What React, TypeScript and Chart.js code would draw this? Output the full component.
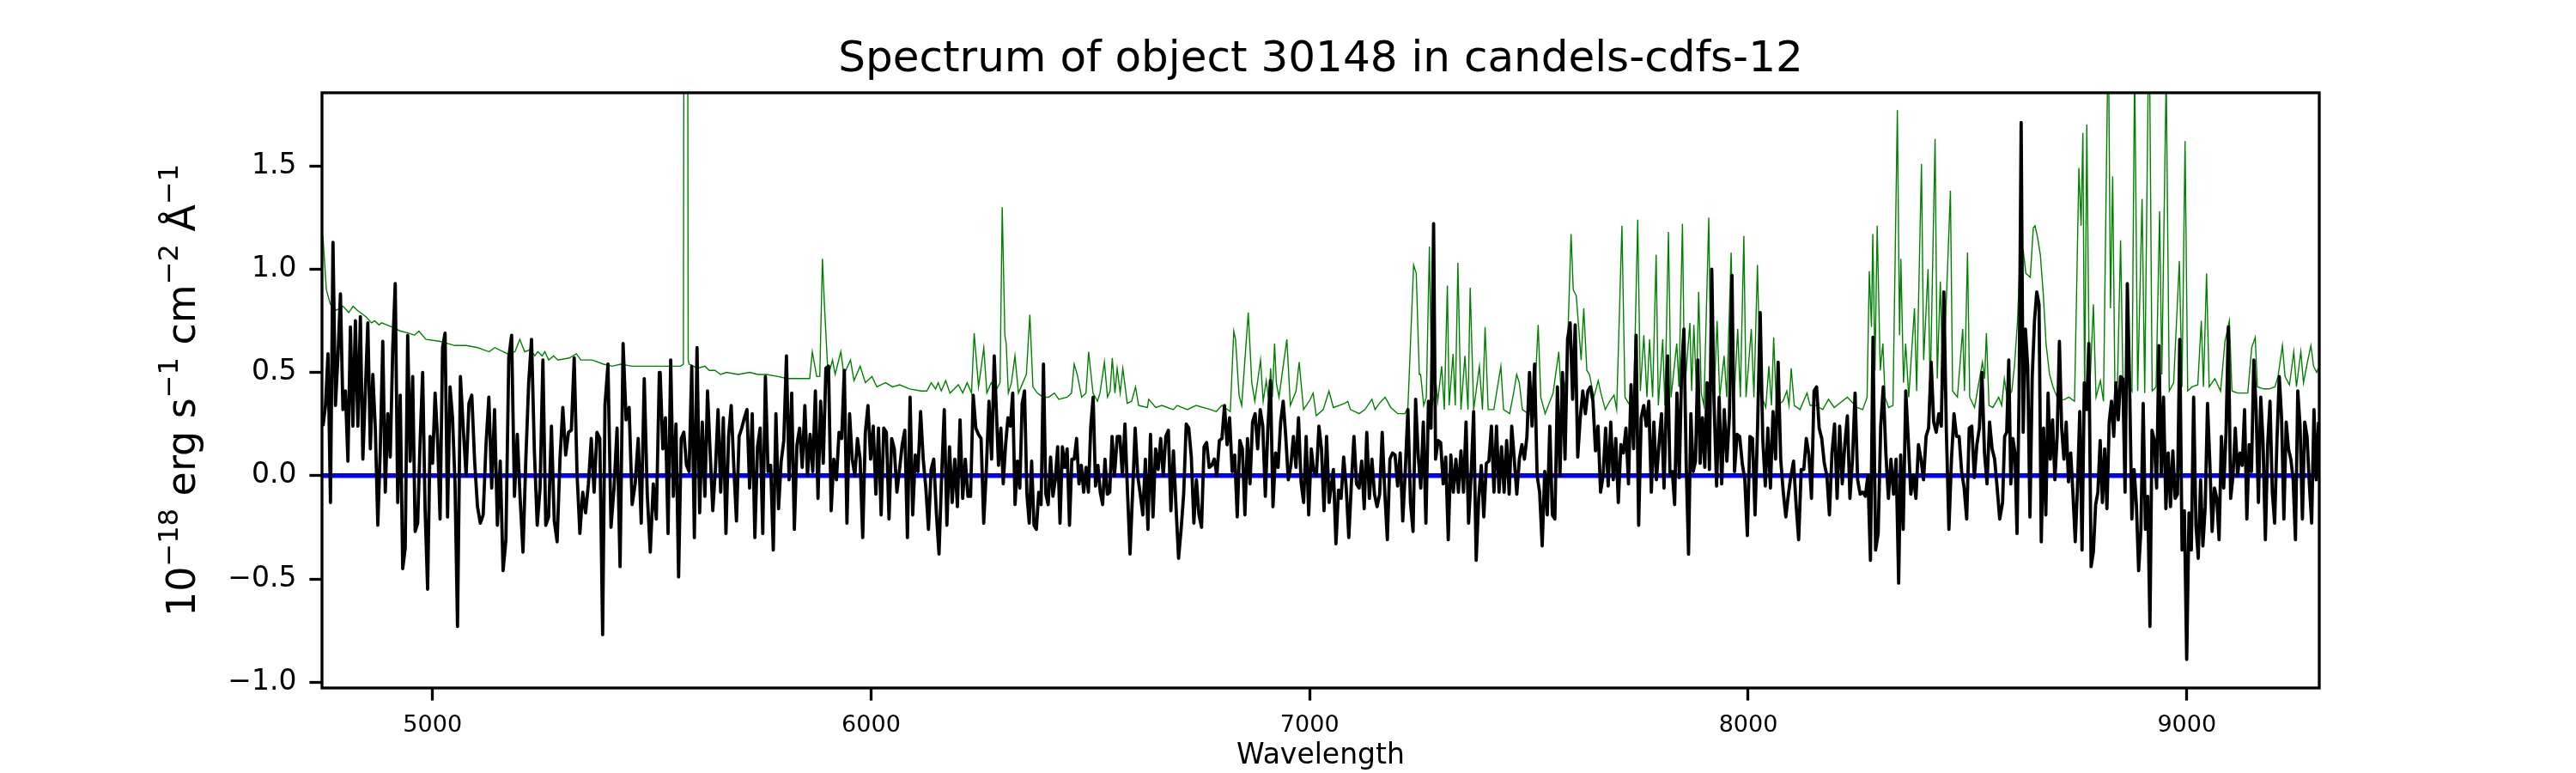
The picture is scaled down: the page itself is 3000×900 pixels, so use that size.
import React, { useEffect, useRef } from "react";
import { Chart, registerables } from "chart.js";
import type { Plugin } from "chart.js";

Chart.register(...registerables);

const TITLE = "Spectrum of object 30148 in candels-cdfs-12";
const X_LABEL = "Wavelength";
const FONT = "DejaVu Sans";

const xTicks = [5000, 6000, 7000, 8000, 9000];
const yTicks = [-1.0, -0.5, 0.0, 0.5, 1.0, 1.5];

// flux readings (black), stored in pieces; each piece is spread evenly from start to end wavelength
const fluxStart = [4750.3, 5063.6, 5393.2, 5519.1, 6290.5, 6561.4, 7054.1, 7287.1, 7816.3, 7922.0, 8347.6, 8579.9, 8626.9, 8920.6];
const fluxEnd = [5057.0, 5387.9, 5517.2, 6280.8, 6554.9, 7044.4, 7282.6, 7808.0, 7916.8, 8343.0, 8573.4, 8622.3, 8916.0, 9300.5];

const fluxA1 = [0.24, 0.34, 0.59, -0.13, 1.13, 0.34, 0.58, 0.88, 0.32, 0.41, 0.07, 0.72, 0.24, 0.75, 0.24, 0.77, 0.08, 0.41, 0.74, 0.13,
  0.49, 0.23, -0.24, 0.13, 0.65, -0.08, 0.30, 0.09, 0.62, 0.93, -0.13, 0.39, -0.45, -0.35, 0.68, 0.07, 0.48, -0.27, -0.23, 0.17,
  0.50, -0.17, -0.55, 0.19, 0.06, 0.40, 0.18, -0.21, 0.62, 0.69, -0.20, 0.43, 0.28, -0.04, -0.73];
const fluxA2 = [0.48, 0.23, 0.00, 0.35, 0.39, 0.07, -0.15, -0.23, -0.19, 0.15, 0.38, -0.06, 0.32, -0.24, 0.07, -0.46, -0.31, 0.57, 0.68, -0.10,
  0.20, -0.11, -0.37, 0.08, 0.45, 0.66, 0.12, -0.24, -0.06, 0.56, -0.24, -0.20, 0.24, -0.22, -0.32, 0.08, 0.33, 0.10, 0.21, 0.22,
  0.57, 0.01, -0.28, -0.08, -0.18, -0.04, 0.18, -0.08, 0.21, 0.18, -0.77];
const fluxA3 = [0.34, 0.54, -0.25, -0.06, 0.23, -0.44, 0.64, 0.27, 0.33, -0.14, -0.04, 0.18, -0.23, 0.47, -0.09, -0.37, -0.04, -0.21, 0.50];
const fluxB = [0.50, 0.13, 0.28, -0.28, 0.56, -0.10, 0.25, -0.49, 0.18, 0.21, 0.05, 0.02, 0.53, -0.30, 0.62, -0.18, 0.26, -0.10, 0.41, 0.11,
  -0.17, 0.03, 0.32, -0.08, 0.28, -0.28, 0.19, 0.34, 0.04, -0.22, 0.19, 0.23, 0.28, 0.32, -0.06, 0.30, -0.30, 0.14, 0.23, -0.28,
  0.48, 0.02, 0.05, -0.36, 0.30, -0.16, 0.07, 0.17, 0.58, -0.02, 0.40, -0.26, 0.15, 0.23, 0.04, 0.34, 0.00, 0.20, 0.02, 0.41,
  -0.11, 0.36, 0.06, 0.52, 0.53, -0.17, 0.08, -0.02, 0.21, 0.18, 0.51, -0.23, 0.30, 0.08, 0.00, 0.18, 0.08, -0.30, 0.21, 0.34,
  0.08, 0.24, -0.09, 0.23, -0.19, 0.23, 0.21, -0.21, 0.18, 0.13, -0.08, 0.03, 0.15, 0.22, -0.30, 0.38, -0.19, 0.10, 0.02, 0.31,
  0.08, -0.06, -0.26, 0.03, 0.08, -0.18, -0.38, 0.00, 0.32, -0.24, 0.14, -0.13, 0.08, -0.15, 0.27, -0.11, 0.08, -0.10, -0.10, 0.39,
  0.23, 0.20, 0.18, -0.23, 0.03, 0.36, 0.08, 0.58];
const fluxC1 = [0.05, 0.23, -0.04, 0.15, 0.28, 0.24, 0.40, -0.14, 0.07, -0.06, 0.35, 0.41, -0.09, -0.23, 0.07, -0.24, -0.26, -0.08, -0.14, 0.54,
  -0.09, -0.14, 0.09, -0.10, -0.02, 0.14, -0.23, 0.14, 0.04, 0.13, -0.24, 0.08, 0.08, 0.18, -0.04, 0.05, -0.08, 0.04, -0.08, 0.24,
  0.38, -0.05, 0.05, -0.08, -0.14, 0.08, -0.09, -0.08, 0.19, 0.00];
const fluxC2 = [0.19, 0.19, 0.00, 0.25, -0.08, -0.38, -0.08, 0.23, 0.00, -0.09, -0.19, 0.08, -0.26, 0.20, -0.20, 0.13, 0.03, 0.18, 0.00, 0.19,
  0.22, -0.17, 0.12, -0.15, -0.40, -0.26, -0.09, 0.25, 0.23, 0.09, -0.23, -0.02, -0.19, -0.25, 0.14, 0.16, 0.04, 0.05, 0.08, 0.00,
  0.17, 0.18, 0.34, 0.15, 0.28, 0.02, 0.10, -0.20, 0.17, 0.13, -0.19, 0.18, -0.04, 0.26, 0.30, 0.13, 0.32, 0.24, -0.10, 0.23,
  0.46, -0.15, 0.11, 0.04, 0.26, 0.36, 0.19, -0.02, 0.05, 0.19, 0.04, 0.28, -0.03, -0.13, 0.19, -0.19, 0.13, 0.02, 0.00, 0.24,
  0.13, -0.17, 0.19, -0.13];
const fluxD1 = [0.03, -0.33, -0.07, -0.11, 0.09, -0.06, -0.30, -0.04, 0.19, -0.04, -0.06, 0.07, -0.16, 0.21, -0.11, 0.08, -0.09, -0.15, -0.09, 0.21,
  -0.08, -0.31, 0.08, 0.11, 0.10, -0.05, 0.11, -0.22, 0.03, 0.32, -0.13, -0.27, 0.37, 0.10, -0.06, 0.26, -0.23, 0.36, 0.23, 1.22];
const fluxD2 = [0.08, 0.17, 0.16, -0.04, 0.09, -0.31, 0.10, -0.08, 0.08, -0.08, 0.12, -0.08, 0.26, -0.23, 0.00, 0.31, -0.41, -0.11, 0.05, -0.20,
  0.06, 0.07, 0.24, -0.08, 0.24, -0.08, 0.14, -0.08, 0.17, -0.09, 0.24, 0.08, -0.09, 0.08, 0.15, 0.08, 0.19, 0.50, 0.24, 0.54,
  0.00, -0.08, -0.34, 0.02, -0.19, 0.24, -0.19, -0.21, 0.43, 0.00, 0.50, 0.08, 0.66, 0.74, 0.37, 0.73, 0.09, 0.28, 0.41, 0.30,
  0.41, 0.43, 0.36, 0.12, 0.24, -0.08, 0.00, 0.23, -0.05, 0.26, -0.02, 0.18, -0.13, 0.15, 0.11, 0.23, -0.04, 0.44, 0.13, 0.68,
  -0.24, 0.28, 0.34, 0.24, 0.36, -0.08, 0.26, -0.02, 0.15, 0.30, -0.06];
const fluxE1 = [0.58, 0.00, 0.02, -0.14, 0.40, -0.01, 0.51, 0.71, 0.05, -0.38, 0.30, 0.02, 0.07, 0.56, 0.06, 0.28, 0.04, 0.45, 0.03, 1.00];
const fluxE2 = [0.36, -0.05, 0.38, -0.04, 0.32, 0.07, 0.29, 0.97, 0.02, 0.20, 0.19, 0.06, -0.02, -0.29, 0.19, 0.18, -0.19, 0.24, 0.79, 0.18,
  -0.05, 0.23, -0.06, 0.31, 0.08, 0.55, 0.08, -0.08, -0.20, -0.09, 0.00, 0.07, -0.14, -0.31, 0.03, 0.03, 0.18, 0.10, -0.11, 0.41,
  0.43, 0.23, 0.18, 0.06, 0.00, -0.19, 0.11, 0.25, -0.11, 0.24, -0.04, 0.15, 0.29, -0.11, 0.08, 0.40, -0.02, -0.09, -0.08, -0.10,
  0.00, -0.41, 0.67, -0.36, -0.28, 0.24, 0.43, 0.11, -0.11, 0.08, -0.09, 0.08, -0.52];
const fluxE3 = [0.10, -0.26, 0.41, 0.17, -0.09, 0.00, -0.11, 0.15, 0.08, -0.02, 0.19, 0.23, 0.55, 0.26, 0.21, 0.30, 0.24, 0.89, 0.21, -0.26,
  0.08, 0.30, 0.19, 0.19, 0.02, -0.06, -0.21, 0.23, 0.24, -0.01, 0.15, 0.23, 0.50, 0.11, -0.04, 0.26, 0.13, 0.08, -0.06, -0.21];
const fluxF1 = [-0.13, 0.19, 0.21, 0.56, -0.04, 0.18, 0.11, -0.28, 0.39, 1.71];
const fluxF2 = [0.21, 0.71, 0.53, -0.20, 0.48, 0.75, 0.89, 0.83, -0.32, 0.23, -0.19, 0.40, 0.08, 0.27, -0.02, 0.19, 0.65, 0.23, 0.08, 0.26,
  -0.03, 0.11, -0.09, -0.32, -0.05, 0.31, -0.36, 0.45, 0.32, 0.64, -0.44, -0.37, -0.14, -0.08, 0.17, -0.13, 0.13, -0.16, 0.26, 0.36,
  0.19, 0.45, 0.27, 0.48, 0.47, -0.08, 0.93, 0.45, -0.21, 0.03, -0.14, -0.46, -0.26, 0.35, -0.26, -0.10, -0.73];
const fluxF3 = [0.22, 0.17, -0.06, 0.63, 0.00, 0.38, -0.16, 0.11, -0.15, 0.12, -0.11, -0.09, 0.66, -0.36, -0.17, -0.89, -0.18, -0.36, 0.38, -0.24,
  -0.40, -0.02, -0.34, -0.15, 0.35, 0.06, -0.27, -0.06, -0.11, -0.31, 0.19, -0.06, 0.21, 0.72, -0.11, 0.00, 0.23, 0.00, 0.11, 0.05,
  0.32, -0.21, 0.15, 0.02, 0.56, 0.32, -0.13, 0.38, 0.16, -0.31, 0.15, 0.36, -0.08, -0.23, 0.17, 0.48, 0.28, -0.21, 0.26, 0.13,
  0.08, -0.02, -0.31, 0.41, 0.24, -0.21, 0.26, 0.19, -0.04, -0.23, 0.32, -0.02, 0.26];

const fluxPieces = [fluxA1, fluxA2, fluxA3, fluxB, fluxC1, fluxC2, fluxD1, fluxD2, fluxE1, fluxE2, fluxE3, fluxF1, fluxF2, fluxF3];

// noise spectrum (green)
const errWave = [
  4750, 4758, 4767, 4780, 4796, 4809, 4819, 4829, 4848, 4861, 4868, 4878, 4884, 4907, 4927, 4946, 4959, 4969, 4985, 5018,
  5034, 5051, 5077, 5103, 5129, 5142, 5171, 5188, 5199, 5210, 5224, 5233, 5240, 5250, 5256, 5265, 5276, 5286, 5312, 5328,
  5338, 5364, 5390, 5410, 5429, 5455, 5501, 5540, 5566, 5572, 5574, 5581, 5583, 5585, 5605, 5621, 5631, 5644, 5657, 5670,
  5697, 5723, 5742, 5762, 5788, 5808, 5860, 5866, 5876, 5883, 5889, 5894, 5902, 5912, 5918, 5931, 5938, 5953, 5961, 5975,
  5987, 6002, 6013, 6033, 6049, 6065, 6088, 6114, 6127, 6137, 6147, 6153, 6160, 6170, 6180, 6199, 6209, 6219, 6229, 6235,
  6245, 6257, 6264, 6274, 6284, 6294, 6299, 6305, 6308, 6313, 6320, 6328, 6336, 6346, 6354, 6362, 6369, 6379, 6392, 6405,
  6418, 6428, 6447, 6457, 6463, 6470, 6480, 6490, 6496, 6506, 6516, 6522, 6532, 6539, 6545, 6550, 6556, 6561, 6568, 6574,
  6584, 6594, 6603, 6610, 6630, 6633, 6649, 6663, 6689, 6698, 6721, 6741, 6774, 6787, 6800, 6819, 6827, 6831, 6839, 6845,
  6860, 6868, 6875, 6888, 6894, 6901, 6907, 6911, 6915, 6920, 6924, 6930, 6948, 6956, 6969, 6976, 6986, 6999, 7008, 7015,
  7031, 7044, 7054, 7067, 7080, 7087, 7093, 7113, 7126, 7142, 7149, 7159, 7172, 7185, 7201, 7217, 7224, 7237, 7243, 7250,
  7253, 7260, 7266, 7273, 7279, 7289, 7292, 7301, 7307, 7314, 7318, 7327, 7332, 7338, 7345, 7354, 7361, 7366, 7374, 7387,
  7394, 7400, 7407, 7420, 7436, 7442, 7456, 7465, 7472, 7478, 7485, 7498, 7511, 7521, 7527, 7537, 7555, 7568, 7575, 7586,
  7596, 7601, 7608, 7619, 7625, 7632, 7638, 7648, 7658, 7664, 7674, 7684, 7694, 7700, 7712, 7719, 7730, 7739, 7748, 7754,
  7762, 7769, 7775, 7782, 7790, 7795, 7805, 7810, 7818, 7824, 7837, 7842, 7850, 7855, 7867, 7871, 7876, 7882, 7887, 7893,
  7899, 7910, 7915, 7922, 7929, 7935, 7945, 7951, 7961, 7968, 7976, 7982, 7990, 7995, 8007, 8013, 8021, 8028, 8040, 8047,
  8053, 8058, 8064, 8079, 8088, 8093, 8098, 8105, 8118, 8134, 8141, 8154, 8170, 8183, 8196, 8226, 8248, 8261, 8271, 8276,
  8281, 8284, 8289, 8294, 8301, 8307, 8312, 8320, 8330, 8340, 8345, 8348, 8354, 8359, 8366, 8379, 8384, 8395, 8400, 8410,
  8415, 8426, 8431, 8438, 8444, 8461, 8466, 8477, 8489, 8493, 8500, 8505, 8516, 8534, 8539, 8543, 8549, 8558, 8571, 8578,
  8584, 8591, 8601, 8607, 8614, 8620, 8627, 8633, 8643, 8650, 8654, 8660, 8666, 8673, 8679, 8687, 8695, 8708, 8722, 8731,
  8744, 8754, 8759, 8763, 8767, 8772, 8778, 8787, 8793, 8803, 8810, 8821, 8826, 8831, 8836, 8842, 8849, 8855, 8865, 8875,
  8881, 8888, 8898, 8904, 8914, 8921, 8930, 8938, 8943, 8953, 8960, 8970, 8983, 8989, 8996, 9002, 9012, 9025, 9033, 9038,
  9045, 9051, 9064, 9077, 9087, 9097, 9103, 9116, 9129, 9139, 9148, 9156, 9161, 9175, 9188, 9201, 9208, 9218, 9224, 9234,
  9244, 9250, 9260, 9266, 9276, 9283, 9289, 9296, 9300,
];
const errFlux = [
  1.16, 0.90, 0.83, 0.80, 0.82, 0.79, 0.82, 0.80, 0.77, 0.74, 0.75, 0.73, 0.74, 0.72, 0.70, 0.69, 0.68, 0.70, 0.66, 0.65,
  0.64, 0.63, 0.63, 0.62, 0.60, 0.62, 0.59, 0.60, 0.66, 0.60, 0.61, 0.58, 0.60, 0.58, 0.60, 0.56, 0.58, 0.56, 0.57, 0.59,
  0.56, 0.56, 0.54, 0.53, 0.54, 0.53, 0.53, 0.53, 0.53, 0.54, 3.5, 3.5, 0.56, 0.54, 0.52, 0.53, 0.51, 0.51, 0.49, 0.50,
  0.49, 0.50, 0.49, 0.49, 0.48, 0.47, 0.47, 0.60, 0.48, 0.48, 1.05, 0.81, 0.48, 0.56, 0.49, 0.60, 0.49, 0.56, 0.46, 0.53,
  0.45, 0.48, 0.43, 0.45, 0.43, 0.44, 0.42, 0.41, 0.41, 0.45, 0.42, 0.45, 0.41, 0.46, 0.40, 0.44, 0.40, 0.45, 0.40, 0.69,
  0.43, 0.62, 0.40, 0.45, 0.41, 0.45, 1.30, 0.68, 0.64, 0.40, 0.45, 0.58, 0.40, 0.45, 0.49, 0.78, 0.43, 0.40, 0.38, 0.38,
  0.40, 0.37, 0.38, 0.40, 0.54, 0.49, 0.38, 0.40, 0.60, 0.40, 0.36, 0.40, 0.55, 0.38, 0.41, 0.57, 0.40, 0.52, 0.40, 0.52,
  0.35, 0.36, 0.43, 0.34, 0.33, 0.37, 0.33, 0.34, 0.32, 0.34, 0.32, 0.34, 0.32, 0.31, 0.34, 0.31, 0.70, 0.66, 0.39, 0.34,
  0.79, 0.45, 0.36, 0.56, 0.36, 0.46, 0.36, 0.52, 0.38, 0.64, 0.45, 0.38, 0.66, 0.34, 0.41, 0.55, 0.32, 0.36, 0.40, 0.29,
  0.32, 0.41, 0.33, 0.34, 0.35, 0.36, 0.32, 0.30, 0.32, 0.37, 0.32, 0.35, 0.38, 0.33, 0.30, 0.30, 0.33, 1.02, 0.98, 0.49,
  0.49, 0.34, 0.38, 1.11, 0.34, 0.43, 0.36, 0.53, 0.32, 0.92, 0.34, 0.59, 0.34, 1.03, 0.32, 0.58, 0.32, 0.91, 0.32, 0.53,
  0.32, 0.72, 0.32, 0.32, 0.53, 0.32, 0.30, 0.40, 0.49, 0.45, 0.32, 0.30, 0.29, 0.73, 0.38, 0.30, 0.40, 0.60, 0.34, 0.49,
  1.17, 0.90, 0.87, 0.56, 0.81, 0.51, 0.49, 0.38, 0.46, 0.40, 0.32, 0.36, 0.39, 0.32, 1.21, 0.38, 0.34, 0.38, 1.24, 0.41,
  0.68, 0.38, 0.66, 0.38, 1.07, 0.34, 0.66, 0.34, 1.18, 0.38, 0.64, 0.43, 1.22, 0.41, 0.74, 0.41, 0.73, 0.40, 0.89, 0.40,
  0.34, 1.25, 0.43, 0.38, 0.75, 0.38, 0.58, 0.38, 1.08, 0.38, 0.71, 0.38, 1.16, 0.38, 0.71, 0.38, 1.02, 0.40, 0.33, 0.53,
  0.34, 0.67, 0.34, 0.36, 0.41, 0.34, 0.52, 0.34, 0.32, 0.40, 0.34, 0.34, 0.32, 0.37, 0.33, 0.38, 0.33, 0.32, 0.38, 0.99,
  0.72, 1.17, 0.51, 1.21, 0.51, 0.64, 0.38, 0.33, 0.34, 1.77, 0.68, 1.05, 0.45, 0.64, 0.38, 0.81, 0.41, 1.51, 0.56, 1.00,
  0.41, 1.63, 0.47, 0.94, 0.41, 1.38, 0.41, 0.38, 0.71, 0.41, 1.08, 0.38, 0.33, 0.55, 0.47, 0.69, 0.34, 0.33, 0.38, 0.34,
  0.47, 0.37, 0.41, 0.53, 0.75, 1.07, 1.09, 0.98, 0.96, 1.20, 1.21, 1.15, 1.07, 0.87, 0.64, 0.49, 0.43, 0.36, 0.37, 0.38,
  0.36, 1.49, 1.21, 1.66, 0.38, 1.70, 0.38, 0.83, 0.38, 0.46, 0.36, 2.2, 0.81, 1.45, 0.43, 0.45, 1.14, 0.38, 0.45, 0.41,
  2.0, 0.41, 1.34, 0.40, 2.3, 0.41, 0.43, 1.28, 0.49, 1.95, 0.41, 0.45, 1.04, 0.43, 1.62, 0.41, 0.43, 0.44, 0.75, 0.43,
  0.98, 0.43, 0.47, 0.41, 0.65, 0.75, 0.41, 0.40, 0.40, 0.40, 0.62, 0.67, 0.43, 0.42, 0.42, 0.43, 0.48, 0.63, 0.48, 0.44,
  0.60, 0.43, 0.60, 0.45, 0.56, 0.63, 0.53, 0.50, 0.52,
];

// continuum model (blue)
const modelWave = [4750, 9300];
const modelFlux = [0, 0];

function buildFlux() {
  const points: { x: number; y: number }[] = [];
  fluxPieces.forEach((values, i) => {
    const step = (fluxEnd[i] - fluxStart[i]) / (values.length - 1);
    values.forEach((v, j) => points.push({ x: fluxStart[i] + j * step, y: v }));
  });
  return points;
}

const toPoints = (xs: number[], ys: number[]) => xs.map((x, i) => ({ x, y: ys[i] }));

// title, y label with superscripts, and the axes frame
const decorPlugin: Plugin<"line"> = {
  id: "spectrumDecor",
  afterDatasetsDraw(chart) {
    const { ctx, chartArea: a } = chart;
    ctx.save();
    ctx.strokeStyle = "#000";
    ctx.lineWidth = 3.3;
    ctx.strokeRect(a.left, a.top, a.right - a.left, a.bottom - a.top);
    ctx.restore();
  },
  afterDraw(chart) {
    const { ctx, chartArea: a } = chart;
    ctx.save();
    ctx.fillStyle = "#000";
    ctx.textBaseline = "alphabetic";
    ctx.textAlign = "center";
    ctx.font = `50px "${FONT}"`;
    ctx.fillText(TITLE, (a.left + a.right) / 2, a.top - 25);

    const parts: [string, boolean][] = [
      ["10", false], ["\u221218", true], [" erg s", false], ["\u22121", true],
      [" cm", false], ["\u22122", true], [" \u00c5", false], ["\u22121", true],
    ];
    const mainFont = `46px "${FONT}"`;
    const supFont = `32px "${FONT}"`;
    let total = 0;
    const widths = parts.map(([t, sup]) => {
      ctx.font = sup ? supFont : mainFont;
      const w = ctx.measureText(t).width;
      total += w;
      return w;
    });
    ctx.translate(a.left - 148, (a.top + a.bottom) / 2);
    ctx.rotate(-Math.PI / 2);
    ctx.textAlign = "left";
    let x = -total / 2;
    parts.forEach(([t, sup], i) => {
      ctx.font = sup ? supFont : mainFont;
      ctx.fillText(t, x, sup ? -20 : 0);
      x += widths[i];
    });
    ctx.restore();
  },
};

export default function App() {
  const canvasRef = useRef<HTMLCanvasElement | null>(null);
  const chartRef = useRef<Chart | null>(null);

  useEffect(() => {
    const canvas = canvasRef.current;
    if (!canvas) return;
    if (chartRef.current) {
      chartRef.current.destroy();
      chartRef.current = null;
    }

    chartRef.current = new Chart(canvas, {
      type: "line",
      data: {
        datasets: [
          {
            data: buildFlux(),
            borderColor: "#000000",
            borderWidth: 3.8,
            borderJoinStyle: "round",
            pointRadius: 0,
            clip: 0,
            order: 0,
          },
          {
            data: toPoints(errWave, errFlux),
            borderColor: "#008000",
            borderWidth: 1.4,
            pointRadius: 0,
            clip: 0,
            order: 1,
          },
          {
            data: toPoints(modelWave, modelFlux),
            borderColor: "#0000ff",
            borderWidth: 5.5,
            pointRadius: 0,
            clip: 0,
            order: 2,
          },
        ],
      },
      options: {
        animation: false,
        responsive: true,
        maintainAspectRatio: false,
        devicePixelRatio: 1,
        layout: { padding: { left: 0, top: 108, right: 299, bottom: 0 } },
        plugins: {
          legend: { display: false },
          tooltip: { enabled: false },
          title: { display: false },
        },
        elements: { line: { tension: 0 } },
        scales: {
          x: {
            type: "linear",
            min: 4748,
            max: 9302,
            afterBuildTicks: (scale: any) => {
              scale.ticks = xTicks.map((v) => ({ value: v }));
            },
            afterFit: (scale: any) => {
              scale.height = 99;
            },
            ticks: {
              color: "#000",
              font: { family: FONT, size: 27 },
              padding: 13,
              maxRotation: 0,
              autoSkip: false,
              callback: (v: any) => String(v),
            },
            grid: { drawOnChartArea: false, drawTicks: true, tickLength: 14.6, tickWidth: 3.3, tickColor: "#000" },
            border: { display: false },
            title: { display: true, text: X_LABEL, color: "#000", font: { family: FONT, size: 33 }, padding: 0 },
          },
          y: {
            type: "linear",
            min: -1.028,
            max: 1.854,
            afterBuildTicks: (scale: any) => {
              scale.ticks = yTicks.map((v) => ({ value: v }));
            },
            afterFit: (scale: any) => {
              scale.width = 375;
            },
            ticks: {
              color: "#000",
              font: { family: FONT, size: 33 },
              padding: 15,
              autoSkip: false,
              callback: (v: any) => Number(v).toFixed(1).replace("-", "\u2212"),
            },
            grid: { drawOnChartArea: false, drawTicks: true, tickLength: 14.6, tickWidth: 3.3, tickColor: "#000" },
            border: { display: false },
          },
        },
      },
      plugins: [decorPlugin],
    });

    return () => {
      if (chartRef.current) {
        chartRef.current.destroy();
        chartRef.current = null;
      }
    };
  }, []);

  return (
    <div style={{ position: "absolute", left: 0, top: 0, width: 3000, height: 900, background: "#fff" }}>
      <canvas ref={canvasRef} />
    </div>
  );
}
